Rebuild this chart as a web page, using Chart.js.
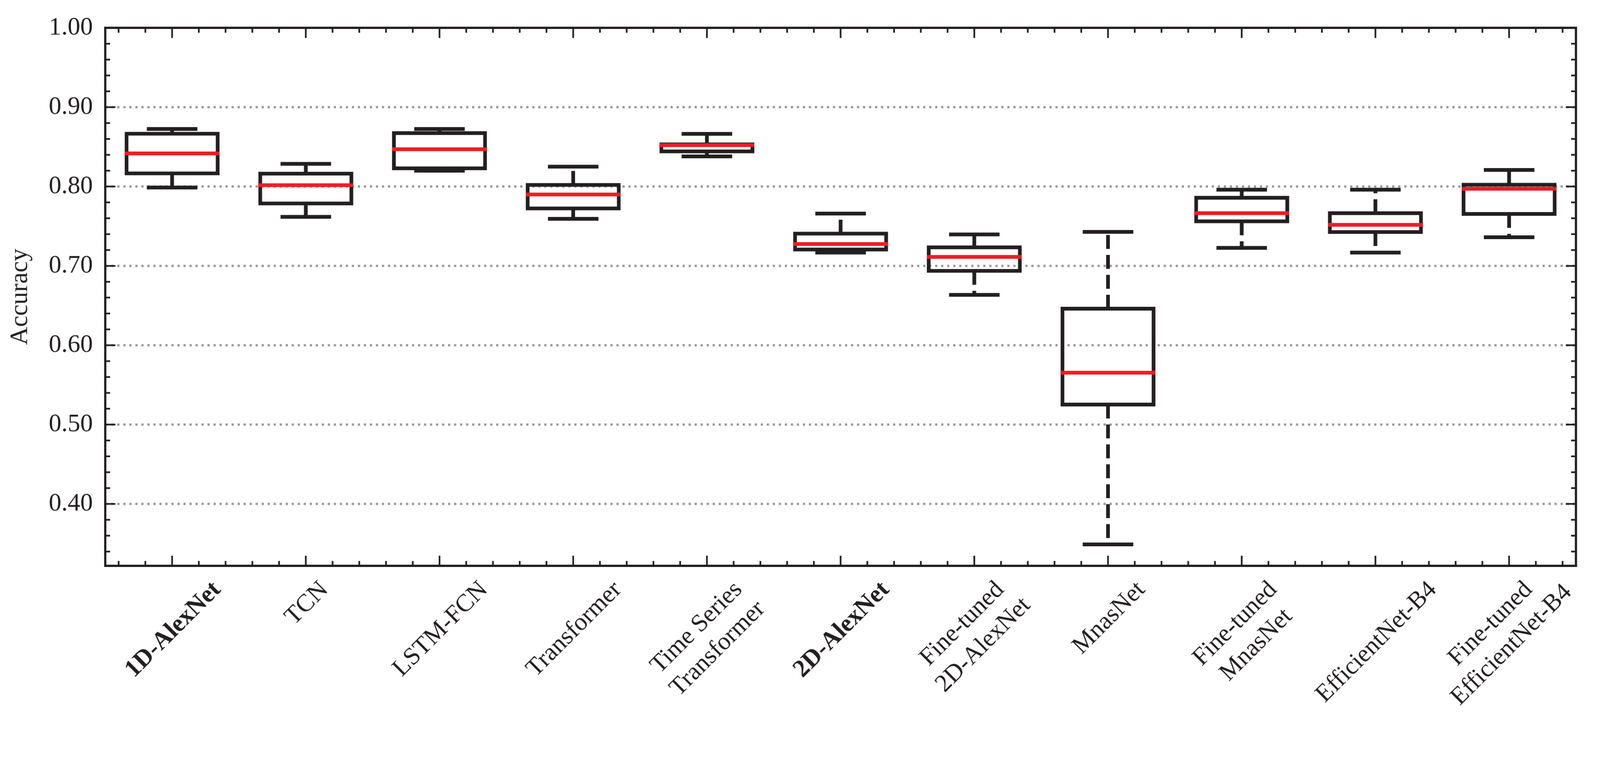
<!DOCTYPE html>
<html>
<head>
<meta charset="utf-8">
<title>Accuracy boxplot</title>
<script src="https://cdn.jsdelivr.net/npm/chart.js@4.4.1/dist/chart.umd.min.js"></script>
<style>
    html, body { margin: 0; padding: 0; background: #ffffff; overflow: hidden; }
    #wrap { width: 4257px; height: 1968px; transform-origin: 0 0; }
</style>
</head>
<body>
<div id="wrap"><canvas id="boxChart"></canvas></div>
<script>
// Categorías (modelos) y estadísticos de cada caja
const modelos = [
    '1D-AlexNet', 'TCN', 'LSTM-FCN', 'Transformer', 'Time Series\nTransformer',
    '2D-AlexNet', 'Fine-tuned\n2D-AlexNet', 'MnasNet', 'Fine-tuned\nMnasNet',
    'EfficientNet-B4', 'Fine-tuned\nEfficientNet-B4'
];
const modelosNegrita = ['1D-AlexNet', '2D-AlexNet'];

const bigoteInf = [0.7988, 0.7618, 0.8200, 0.7593, 0.8380, 0.7168, 0.6635, 0.3490, 0.7227, 0.7168, 0.7361];
const cuartil1  = [0.8142, 0.7763, 0.8206, 0.7700, 0.8419, 0.7182, 0.6913, 0.5229, 0.7537, 0.7403, 0.7631];
const mediana   = [0.8417, 0.8017, 0.8470, 0.7900, 0.8522, 0.7276, 0.7113, 0.5654, 0.7664, 0.7517, 0.7972];
const cuartil3  = [0.8690, 0.8187, 0.8697, 0.8045, 0.8555, 0.7431, 0.7258, 0.6485, 0.7882, 0.7688, 0.8047];
const bigoteSup = [0.8726, 0.8286, 0.8725, 0.8250, 0.8664, 0.7659, 0.7396, 0.7429, 0.7960, 0.7960, 0.8209];

// Marcas del eje Y
const yTicks = [0.40, 0.50, 0.60, 0.70, 0.80, 0.90, 1.00];
const yMin = 0.322;
const yMax = 1.00;

const NEGRO = '#231f20';
const ROJO = '#ee1c25';
const GRIS = '#999999';
const FUENTE = '"Liberation Serif", "Times New Roman", serif';

// Ajustar el lienzo de 4257x1968 a la ventana real
const ANCHO = 4257, ALTO = 1968;
const escala = Math.min(window.innerWidth / ANCHO, window.innerHeight / ALTO) || 1;
document.getElementById('wrap').style.transform = 'scale(' + escala + ')';

// Plugin para dibujar rejilla, bigotes, medianas, marco y etiquetas rotadas
const boxplotExtras = {
    id: 'boxplotExtras',
    beforeDatasetsDraw(chart) {
        const { ctx, chartArea } = chart;
        const y = chart.scales.y;
        ctx.save();
        ctx.strokeStyle = GRIS;
        ctx.lineWidth = 6;
        ctx.setLineDash([6, 10]);
        ctx.lineCap = 'butt';
        yTicks.forEach(v => {
            const py = y.getPixelForValue(v);
            ctx.beginPath();
            ctx.moveTo(chartArea.left, py);
            ctx.lineTo(chartArea.right, py);
            ctx.stroke();
        });
        ctx.restore();
    },
    afterDatasetsDraw(chart) {
        const { ctx, chartArea } = chart;
        const x = chart.scales.x;
        const y = chart.scales.y;
        const meta = chart.getDatasetMeta(0);
        const paso = x.getPixelForValue(1) - x.getPixelForValue(0);
        const lw = 10;

        ctx.save();
        meta.data.forEach((bar, i) => {
            const cx = bar.x;
            const half = bar.width / 2;
            const pQ1 = y.getPixelForValue(cuartil1[i]);
            const pQ3 = y.getPixelForValue(cuartil3[i]);
            const pLo = y.getPixelForValue(bigoteInf[i]);
            const pHi = y.getPixelForValue(bigoteSup[i]);
            const pMed = y.getPixelForValue(mediana[i]);

            // Bigotes discontinuos
            ctx.strokeStyle = NEGRO;
            ctx.lineWidth = lw;
            ctx.lineCap = 'butt';
            ctx.setLineDash([37, 16]);
            ctx.beginPath();
            ctx.moveTo(cx, pQ3 + lw / 2);
            ctx.lineTo(cx, pHi);
            ctx.stroke();
            ctx.beginPath();
            ctx.moveTo(cx, pQ1 - lw / 2);
            ctx.lineTo(cx, pLo);
            ctx.stroke();

            // Topes
            ctx.setLineDash([]);
            ctx.lineCap = 'square';
            const capHalf = paso * 0.175;
            [pLo, pHi].forEach(py => {
                ctx.beginPath();
                ctx.moveTo(cx - capHalf, py);
                ctx.lineTo(cx + capHalf, py);
                ctx.stroke();
            });

            // Mediana
            ctx.strokeStyle = ROJO;
            ctx.lineCap = 'butt';
            ctx.beginPath();
            ctx.moveTo(cx - half, pMed);
            ctx.lineTo(cx + half, pMed);
            ctx.stroke();
        });

        // Marco
        ctx.strokeStyle = NEGRO;
        ctx.lineWidth = 6;
        ctx.setLineDash([]);
        ctx.lineCap = 'butt';
        ctx.strokeRect(chartArea.left, chartArea.top, chartArea.right - chartArea.left, chartArea.bottom - chartArea.top);

        // Marcas hacia dentro en los cuatro lados
        ctx.lineWidth = 4.5;
        const mayor = 27, menor = 13;
        for (let k = -2; k <= modelos.length * 5 - 3; k++) {
            const v = k / 5;
            const px = x.getPixelForValue(v);
            const len = (k % 5 === 0) ? mayor : menor;
            ctx.beginPath();
            ctx.moveTo(px, chartArea.bottom);
            ctx.lineTo(px, chartArea.bottom - len);
            ctx.moveTo(px, chartArea.top);
            ctx.lineTo(px, chartArea.top + len);
            ctx.stroke();
        }
        for (let k = Math.ceil(yMin * 50); k <= Math.round(yMax * 50); k++) {
            const v = k / 50;
            const py = y.getPixelForValue(v);
            const len = (k % 5 === 0) ? mayor : menor;
            ctx.beginPath();
            ctx.moveTo(chartArea.left, py);
            ctx.lineTo(chartArea.left + len, py);
            ctx.moveTo(chartArea.right, py);
            ctx.lineTo(chartArea.right - len, py);
            ctx.stroke();
        }

        // Etiquetas del eje X rotadas 45 grados, centradas bajo cada marca
        const f = 66;
        const interlinea = 1.2 * f;
        const capH = 0.66 * f;
        const r2 = Math.SQRT2;
        ctx.fillStyle = NEGRO;
        ctx.textAlign = 'center';
        ctx.textBaseline = 'alphabetic';
        modelos.forEach((nombre, i) => {
            const negrita = modelosNegrita.includes(nombre);
            ctx.font = (negrita ? 'bold ' : '') + f + 'px ' + FUENTE;
            const lineas = nombre.split('\n');
            const anchos = lineas.map(l => ctx.measureText(l).width);
            let minSx = Infinity, maxSx = -Infinity, minSy = Infinity;
            lineas.forEach((l, j) => {
                const base = j * interlinea;
                const top = base - capH;
                minSx = Math.min(minSx, (-anchos[j] / 2 + top) / r2);
                maxSx = Math.max(maxSx, (anchos[j] / 2 + base) / r2);
                minSy = Math.min(minSy, (top - anchos[j] / 2) / r2);
            });
            const tx = x.getPixelForValue(i);
            const ax = tx - (minSx + maxSx) / 2;
            const ay = chartArea.bottom + 35 - minSy;
            ctx.save();
            ctx.translate(ax, ay);
            ctx.rotate(-Math.PI / 4);
            lineas.forEach((l, j) => ctx.fillText(l, 0, j * interlinea));
            ctx.restore();
        });
        ctx.restore();
    }
};

// Función para crear el diagrama de cajas
function createBoxChart(ctx) {
    return new Chart(ctx, {
        type: 'bar',
        data: {
            labels: modelos,
            datasets: [{
                label: 'Accuracy',
                data: modelos.map((_, i) => [cuartil1[i], cuartil3[i]]),
                backgroundColor: 'rgba(0,0,0,0)',
                borderColor: NEGRO,
                borderWidth: 10,
                borderSkipped: false,
                inflateAmount: 0,
                barPercentage: 0.71,
                categoryPercentage: 1.0
            }]
        },
        options: {
            responsive: true,
            maintainAspectRatio: false,
            devicePixelRatio: 1,
            animation: false,
            layout: {
                padding: { top: 74, right: 64, bottom: 0, left: 0 }
            },
            plugins: {
                legend: { display: false },
                tooltip: { enabled: false }
            },
            scales: {
                x: {
                    type: 'category',
                    offset: true,
                    grid: { display: false },
                    border: { display: false },
                    ticks: { display: false },
                    afterFit: function(scale) { scale.height = 463; }
                },
                y: {
                    min: yMin,
                    max: yMax,
                    grid: { display: false, drawTicks: false },
                    border: { display: false },
                    afterBuildTicks: function(scale) {
                        scale.ticks = yTicks.map(v => ({ value: v }));
                    },
                    ticks: {
                        color: NEGRO,
                        padding: 33,
                        font: { family: FUENTE, size: 67 },
                        callback: function(value) { return Number(value).toFixed(2); }
                    },
                    title: {
                        display: true,
                        text: 'Accuracy',
                        color: NEGRO,
                        font: { family: FUENTE, size: 67 },
                        padding: { top: 14, bottom: 0 }
                    },
                    afterFit: function(scale) { scale.width = 280; }
                }
            }
        },
        plugins: [boxplotExtras]
    });
}

createBoxChart(document.getElementById('boxChart').getContext('2d'));
</script>
</body>
</html>
